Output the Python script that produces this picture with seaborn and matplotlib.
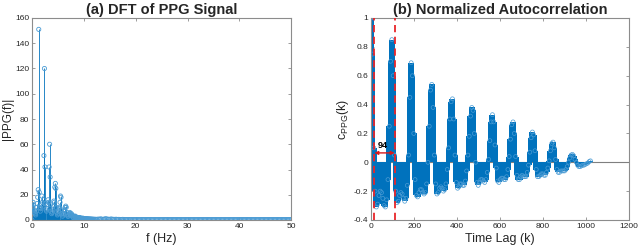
import numpy as np
import pandas as pd
import matplotlib
matplotlib.use("Agg")
import matplotlib.pyplot as plt
import seaborn as sns

# ---------------- data ----------------
# (a) DFT magnitude, 0-12 Hz at 0.1 Hz
dft_freq_low = np.round(np.arange(0, 12.01, 0.1), 2)
dft_mag_low = [
    0, 10, 14, 12, 6, 8, 5, 4, 7, 10,
    13, 18, 24, 151, 22, 10, 7, 9, 12, 19,
    14, 11, 16, 51, 120, 42, 13, 8, 7, 9,
    12, 16, 14, 42, 60, 34, 12, 7, 5, 6,
    8, 11, 15, 14, 26, 29, 25, 10, 6, 4,
    5, 7, 9, 10, 14, 19, 18, 8, 5, 3,
    4, 5, 7, 8, 10, 11, 10, 6, 4, 3,
    3, 4, 5, 6, 5, 4, 5, 4, 3, 2,
    2, 3, 3, 2.5, 3, 2, 2, 1.5, 2, 2,
    1.5, 1.5, 2, 1.5, 1, 1.5, 1.2, 1, 1.5, 1,
    1, 1.2, 0.9, 1, 0.8, 0.9, 1, 0.8, 0.7, 0.8,
    0.7, 0.8, 0.6, 0.7, 0.6, 0.7, 0.6, 0.5, 0.6, 0.5,
    0.6,
]
# (a) DFT magnitude tail, 12.25-50 Hz at 0.25 Hz
dft_freq_high = np.arange(12.25, 50.01, 0.25)
dft_mag_high = [
    0.6, 0.5, 0.7, 0.6, 0.9, 0.6, 0.5, 0.8, 1.0, 0.7,
    0.6, 0.5, 0.8, 0.6, 0.5, 0.5, 0.6, 0.4, 0.5, 0.4,
    0.4, 0.5, 0.4, 0.4, 0.3, 0.4, 0.3, 0.4, 0.3, 0.3,
    0.3, 0.4, 0.3, 0.3, 0.3, 0.3, 0.4, 0.3, 0.3, 0.3,
    0.3, 0.3, 0.4, 0.3, 0.3, 0.3, 0.3, 0.3, 0.3, 0.3,
    0.3, 0.3, 0.3, 0.3, 0.3, 0.4, 0.3, 0.3, 0.3, 0.3,
    0.3, 0.3, 0.3, 0.3, 0.3, 0.3, 0.3, 0.3, 0.3, 0.3,
    0.3, 0.3, 0.3, 0.3, 0.3, 0.3, 0.3, 0.3, 0.3, 0.3,
    0.3, 0.3, 0.3, 0.3, 0.3, 0.3, 0.3, 0.3, 0.3, 0.3,
    0.3, 0.3, 0.3, 0.3, 0.3, 0.3, 0.3, 0.3, 0.3, 0.3,
    0.3, 0.3, 0.3, 0.3, 0.3, 0.3, 0.3, 0.3, 0.3, 0.3,
    0.3, 0.3, 0.3, 0.3, 0.3, 0.3, 0.3, 0.3, 0.3, 0.3,
    0.3, 0.3, 0.3, 0.3, 0.3, 0.3, 0.3, 0.3, 0.3, 0.3,
    0.3, 0.3, 0.3, 0.3, 0.3, 0.3, 0.3, 0.3, 0.3, 0.3,
    0.3, 0.3, 0.3, 0.3, 0.3, 0.3, 0.3, 0.3, 0.3, 0.3,
    0.3, 0.3,
]

# (b) normalized autocorrelation, lags 0..1020 step 6
acf_lag = np.arange(0, 1021, 6)
acf_val = [
    1.00, 0.75, 0.10, -0.20, -0.31, -0.29, -0.23, -0.20, -0.21, -0.25,
    -0.30, -0.31, -0.26, -0.12, 0.25, 0.70, 0.85, 0.60, 0.05, -0.20,
    -0.28, -0.27, -0.23, -0.21, -0.22, -0.25, -0.27, -0.25, -0.16, 0.05,
    0.45, 0.69, 0.60, 0.20, -0.12, -0.23, -0.24, -0.21, -0.19, -0.19,
    -0.21, -0.22, -0.21, -0.15, 0.00, 0.25, 0.50, 0.54, 0.38, 0.05,
    -0.15, -0.22, -0.21, -0.18, -0.17, -0.18, -0.20, -0.19, -0.15, -0.05,
    0.10, 0.30, 0.42, 0.44, 0.30, 0.05, -0.14, -0.18, -0.17, -0.15,
    -0.15, -0.16, -0.16, -0.13, -0.06, 0.05, 0.18, 0.32, 0.38, 0.36,
    0.20, 0.00, -0.14, -0.16, -0.14, -0.12, -0.12, -0.13, -0.14, -0.12,
    -0.07, 0.02, 0.15, 0.28, 0.33, 0.28, 0.12, -0.04, -0.13, -0.14,
    -0.12, -0.11, -0.11, -0.12, -0.12, -0.10, -0.05, 0.04, 0.16, 0.26,
    0.28, 0.20, 0.04, -0.09, -0.12, -0.12, -0.10, -0.09, -0.10, -0.10,
    -0.10, -0.07, -0.02, 0.07, 0.17, 0.21, 0.19, 0.08, -0.05, -0.10,
    -0.10, -0.09, -0.08, -0.08, -0.09, -0.09, -0.07, -0.04, 0.01, 0.08,
    0.13, 0.14, 0.10, 0.02, -0.05, -0.07, -0.07, -0.06, -0.06, -0.06,
    -0.06, -0.05, -0.03, 0.00, 0.03, 0.05, 0.055, 0.045, 0.02, 0.00,
    -0.02, -0.03, -0.03, -0.025, -0.02, -0.02, -0.015, -0.01, -0.005, 0.005,
    0.01,
]
assert len(acf_val) == len(acf_lag)
assert len(dft_mag_low) == len(dft_freq_low)
assert len(dft_mag_high) == len(dft_freq_high)

period_lines = [15, 109]
period_label = "94"

# ---------------- style ----------------
sns.set_theme(style="ticks")
plt.rcParams["font.family"] = ["Liberation Sans", "DejaVu Sans"]
plt.rcParams["mathtext.fontset"] = "custom"
plt.rcParams["mathtext.rm"] = "Liberation Sans"
plt.rcParams["mathtext.it"] = "Liberation Sans"

BLUE = "#0072BD"
MEDGE = "#4a9bd4"
SPINE = "#8c8c8c"
TXT = "#262626"

fig = plt.figure(figsize=(6.4, 2.5), dpi=100)
ax1 = fig.add_axes([0.050, 0.120, 0.405, 0.808])
ax2 = fig.add_axes([0.580, 0.120, 0.403, 0.808])


def style_axes(ax):
    for s in ax.spines.values():
        s.set_visible(True)
        s.set_color(SPINE)
        s.set_linewidth(0.8)
    ax.tick_params(direction="in", top=True, right=True, length=2.5,
                   width=0.6, color=SPINE, labelsize=6, labelcolor=TXT,
                   pad=2)


# (a) DFT stem plot
dft = pd.DataFrame({
    "f": np.concatenate([dft_freq_low, dft_freq_high]),
    "mag": np.concatenate([dft_mag_low, dft_mag_high]),
})
ax1.vlines(dft["f"], 0, dft["mag"], colors=BLUE, linewidths=0.7, alpha=0.85,
           zorder=2)
sns.scatterplot(data=dft, x="f", y="mag", ax=ax1, marker="o", s=9,
                facecolor="none", edgecolor=MEDGE, linewidth=0.6, zorder=3,
                legend=False)
ax1.set_xlim(0, 50)
ax1.set_ylim(0, 160)
ax1.set_xticks(range(0, 51, 10))
ax1.set_yticks(range(0, 161, 20))
ax1.set_xlabel("f (Hz)", fontsize=9, color=TXT, labelpad=2)
ax1.set_ylabel("|PPG(f)|", fontsize=8.5, color=TXT, labelpad=1)
ax1.set_title("(a) DFT of PPG Signal", fontsize=10.5, fontweight="bold",
              pad=3)
style_axes(ax1)

# (b) autocorrelation stem plot
acf = pd.DataFrame({"lag": acf_lag, "c": acf_val})
ax2.axhline(0, color="#7f7f7f", lw=0.8, zorder=1)
ax2.vlines(acf["lag"], 0, acf["c"], colors=BLUE, linewidths=3.0,
           antialiased=False, capstyle="butt", zorder=2)
sns.scatterplot(data=acf, x="lag", y="c", ax=ax2, marker="o", s=8,
                facecolor="none", edgecolor=MEDGE, linewidth=0.5, zorder=3,
                legend=False)
for xv in period_lines:
    ax2.axvline(xv, color="#e8262a", ls=(0, (4, 2.5)), lw=1.3, zorder=4)
ax2.annotate("", xy=(period_lines[0], 0.065), xytext=(period_lines[1], 0.065),
             arrowprops=dict(arrowstyle="<|-|>", color="#d7191c", lw=1.0,
                             mutation_scale=5, shrinkA=0, shrinkB=0),
             zorder=5)
ax2.text(sum(period_lines) / 2 - 8, 0.085, period_label, fontsize=6.5,
         fontweight="bold", ha="center", va="bottom", color="black", zorder=5)
ax2.set_xlim(0, 1200)
ax2.set_ylim(-0.4, 1.0)
ax2.set_xticks(range(0, 1201, 200))
ax2.set_yticks(np.round(np.arange(-0.4, 1.01, 0.2), 1))
ax2.set_yticklabels(["-0.4", "-0.2", "0", "0.2", "0.4", "0.6", "0.8", "1"])
ax2.set_xlabel("Time Lag (k)", fontsize=9, color=TXT, labelpad=2)
ax2.set_ylabel(r"c$_{\mathrm{PPG}}$(k)", fontsize=9, color=TXT, labelpad=2)
ax2.set_title("(b) Normalized Autocorrelation", fontsize=10.5,
              fontweight="bold", pad=3)
style_axes(ax2)

fig.savefig("out.png", dpi=100)
